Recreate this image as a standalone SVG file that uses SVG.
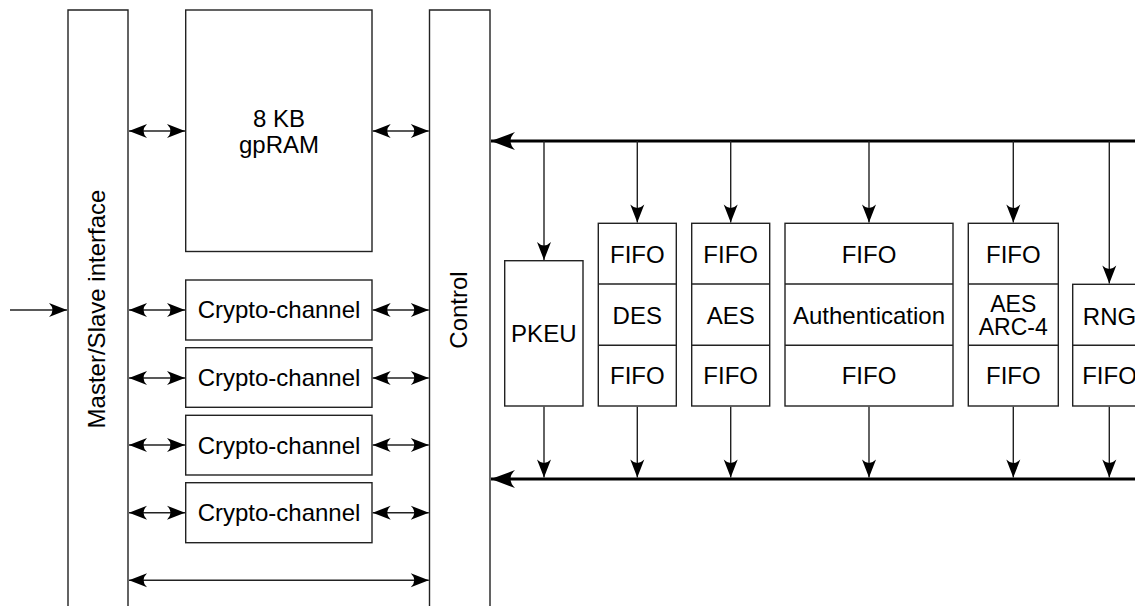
<svg xmlns="http://www.w3.org/2000/svg" width="1135" height="606" viewBox="0 0 1135 606">
  <style>
    .box { fill: #fff; stroke: #222; stroke-width: 1.4; }
    .col { fill: none; stroke: #222; stroke-width: 1.4; }
    .div { stroke: #222; stroke-width: 1.4; }
    .lbl { font-family: "Liberation Sans", Arial, Helvetica, sans-serif; font-size: 24px; fill: #000; text-anchor: middle; }
    .tight { font-size: 23px; }
    .wire { fill: none; stroke: #222; stroke-width: 1.4; }
    .bus { fill: none; stroke: #000; stroke-width: 3; }
  </style>
  <defs>
    <marker id="ah" markerUnits="userSpaceOnUse" markerWidth="22" markerHeight="18" viewBox="-20 -9 21 18" refX="0" refY="0" orient="auto-start-reverse">
      <path d="M0,0 L-18,-7 Q-11,0 -18,7 Z" fill="#000"/>
    </marker>
    <marker id="bh" markerUnits="userSpaceOnUse" markerWidth="28" markerHeight="22" viewBox="-26 -11 27 22" refX="0" refY="0" orient="auto">
      <path d="M0,0 L-24,-9 Q-15,0 -24,9 Z" fill="#000"/>
    </marker>
  </defs>

  <!-- Master/Slave interface column (open at the bottom) -->
  <g id="master-slave">
    <path class="col" d="M68,606 V10 H128 V606"/>
    <text class="lbl" transform="translate(105,309) rotate(-90)">Master/Slave interface</text>
  </g>

  <!-- Control column (open at the bottom) -->
  <g id="control">
    <path class="col" d="M429.5,606 V10 H490 V606"/>
    <text class="lbl" transform="translate(467,310) rotate(-90)">Control</text>
  </g>

  <g id="gpram">
    <rect class="box" x="185.7" y="10" width="186.3" height="241.5"/>
    <text class="lbl" x="279" y="126.7">8 KB</text>
    <text class="lbl" x="279" y="152.7">gpRAM</text>
  </g>

  <g id="crypto-channel-1">
    <rect class="box" x="185.7" y="280" width="186.3" height="60"/>
    <text class="lbl" x="279" y="318.3">Crypto-channel</text>
  </g>
  <g id="crypto-channel-2">
    <rect class="box" x="185.7" y="347.7" width="186.3" height="59.6"/>
    <text class="lbl" x="279" y="386">Crypto-channel</text>
  </g>
  <g id="crypto-channel-3">
    <rect class="box" x="185.7" y="415.3" width="186.3" height="59.7"/>
    <text class="lbl" x="279" y="453.5">Crypto-channel</text>
  </g>
  <g id="crypto-channel-4">
    <rect class="box" x="185.7" y="482.7" width="186.3" height="60"/>
    <text class="lbl" x="279" y="521">Crypto-channel</text>
  </g>

  <g id="pkeu">
    <rect class="box" x="504.7" y="260.7" width="78.3" height="145.3"/>
    <text class="lbl" x="543.8" y="342">PKEU</text>
  </g>

  <g id="des">
    <rect class="box" x="598.3" y="223.3" width="78" height="182.7"/>
    <line class="div" x1="598.3" y1="284" x2="676.3" y2="284"/>
    <line class="div" x1="598.3" y1="345.3" x2="676.3" y2="345.3"/>
    <text class="lbl" x="637.3" y="263.3">FIFO</text>
    <text class="lbl" x="637.3" y="324">DES</text>
    <text class="lbl" x="637.3" y="384">FIFO</text>
  </g>

  <g id="aes">
    <rect class="box" x="691.7" y="223.3" width="78" height="182.7"/>
    <line class="div" x1="691.7" y1="284" x2="769.7" y2="284"/>
    <line class="div" x1="691.7" y1="345.3" x2="769.7" y2="345.3"/>
    <text class="lbl" x="730.7" y="263.3">FIFO</text>
    <text class="lbl" x="730.7" y="324">AES</text>
    <text class="lbl" x="730.7" y="384">FIFO</text>
  </g>

  <g id="authentication">
    <rect class="box" x="785" y="223.3" width="168" height="182.7"/>
    <line class="div" x1="785" y1="284" x2="953" y2="284"/>
    <line class="div" x1="785" y1="345.3" x2="953" y2="345.3"/>
    <text class="lbl" x="869" y="263.3">FIFO</text>
    <text class="lbl" x="869" y="324">Authentication</text>
    <text class="lbl" x="869" y="384">FIFO</text>
  </g>

  <g id="aes-arc4">
    <rect class="box" x="968.3" y="223.3" width="90" height="182.7"/>
    <line class="div" x1="968.3" y1="284" x2="1058.3" y2="284"/>
    <line class="div" x1="968.3" y1="345.3" x2="1058.3" y2="345.3"/>
    <text class="lbl" x="1013.3" y="263.3">FIFO</text>
    <text class="lbl tight" x="1013.3" y="311.5">AES</text>
    <text class="lbl tight" x="1013.3" y="335">ARC-4</text>
    <text class="lbl" x="1013.3" y="384">FIFO</text>
  </g>

  <g id="rng">
    <rect class="box" x="1072.7" y="284.3" width="74" height="121.7"/>
    <line class="div" x1="1072.7" y1="345.3" x2="1146.7" y2="345.3"/>
    <text class="lbl" x="1109.5" y="324.5">RNG</text>
    <text class="lbl" x="1109.5" y="384">FIFO</text>
  </g>

  <g id="connectors">
    <!-- external input -->
    <line class="wire" x1="10" y1="310" x2="67" y2="310" marker-end="url(#ah)"/>

    <!-- Master/Slave to gpRAM / channels -->
    <line class="wire" x1="129" y1="131" x2="185" y2="131" marker-start="url(#ah)" marker-end="url(#ah)"/>
    <line class="wire" x1="129" y1="310" x2="185" y2="310" marker-start="url(#ah)" marker-end="url(#ah)"/>
    <line class="wire" x1="129" y1="378" x2="185" y2="378" marker-start="url(#ah)" marker-end="url(#ah)"/>
    <line class="wire" x1="129" y1="445" x2="185" y2="445" marker-start="url(#ah)" marker-end="url(#ah)"/>
    <line class="wire" x1="129" y1="512.7" x2="185" y2="512.7" marker-start="url(#ah)" marker-end="url(#ah)"/>

    <!-- gpRAM / channels to Control -->
    <line class="wire" x1="372.7" y1="131" x2="428.8" y2="131" marker-start="url(#ah)" marker-end="url(#ah)"/>
    <line class="wire" x1="372.7" y1="310" x2="428.8" y2="310" marker-start="url(#ah)" marker-end="url(#ah)"/>
    <line class="wire" x1="372.7" y1="378" x2="428.8" y2="378" marker-start="url(#ah)" marker-end="url(#ah)"/>
    <line class="wire" x1="372.7" y1="445" x2="428.8" y2="445" marker-start="url(#ah)" marker-end="url(#ah)"/>
    <line class="wire" x1="372.7" y1="512.7" x2="428.8" y2="512.7" marker-start="url(#ah)" marker-end="url(#ah)"/>

    <!-- direct Master/Slave to Control -->
    <line class="wire" x1="129" y1="580.3" x2="428.8" y2="580.3" marker-start="url(#ah)" marker-end="url(#ah)"/>

    <!-- buses -->
    <line class="bus" x1="1135" y1="141" x2="491" y2="141" marker-end="url(#bh)"/>
    <line class="bus" x1="1135" y1="479" x2="491" y2="479" marker-end="url(#bh)"/>

    <!-- top bus to units -->
    <line class="wire" x1="544" y1="141" x2="544" y2="260" marker-end="url(#ah)"/>
    <line class="wire" x1="637.3" y1="141" x2="637.3" y2="222.6" marker-end="url(#ah)"/>
    <line class="wire" x1="730.7" y1="141" x2="730.7" y2="222.6" marker-end="url(#ah)"/>
    <line class="wire" x1="869" y1="141" x2="869" y2="222.6" marker-end="url(#ah)"/>
    <line class="wire" x1="1013.3" y1="141" x2="1013.3" y2="222.6" marker-end="url(#ah)"/>
    <line class="wire" x1="1109.3" y1="141" x2="1109.3" y2="283.6" marker-end="url(#ah)"/>

    <!-- units to bottom bus -->
    <line class="wire" x1="544" y1="406.7" x2="544" y2="477.5" marker-end="url(#ah)"/>
    <line class="wire" x1="637.3" y1="406.7" x2="637.3" y2="477.5" marker-end="url(#ah)"/>
    <line class="wire" x1="730.7" y1="406.7" x2="730.7" y2="477.5" marker-end="url(#ah)"/>
    <line class="wire" x1="869" y1="406.7" x2="869" y2="477.5" marker-end="url(#ah)"/>
    <line class="wire" x1="1013.3" y1="406.7" x2="1013.3" y2="477.5" marker-end="url(#ah)"/>
    <line class="wire" x1="1109.3" y1="406.7" x2="1109.3" y2="477.5" marker-end="url(#ah)"/>
  </g>
</svg>
